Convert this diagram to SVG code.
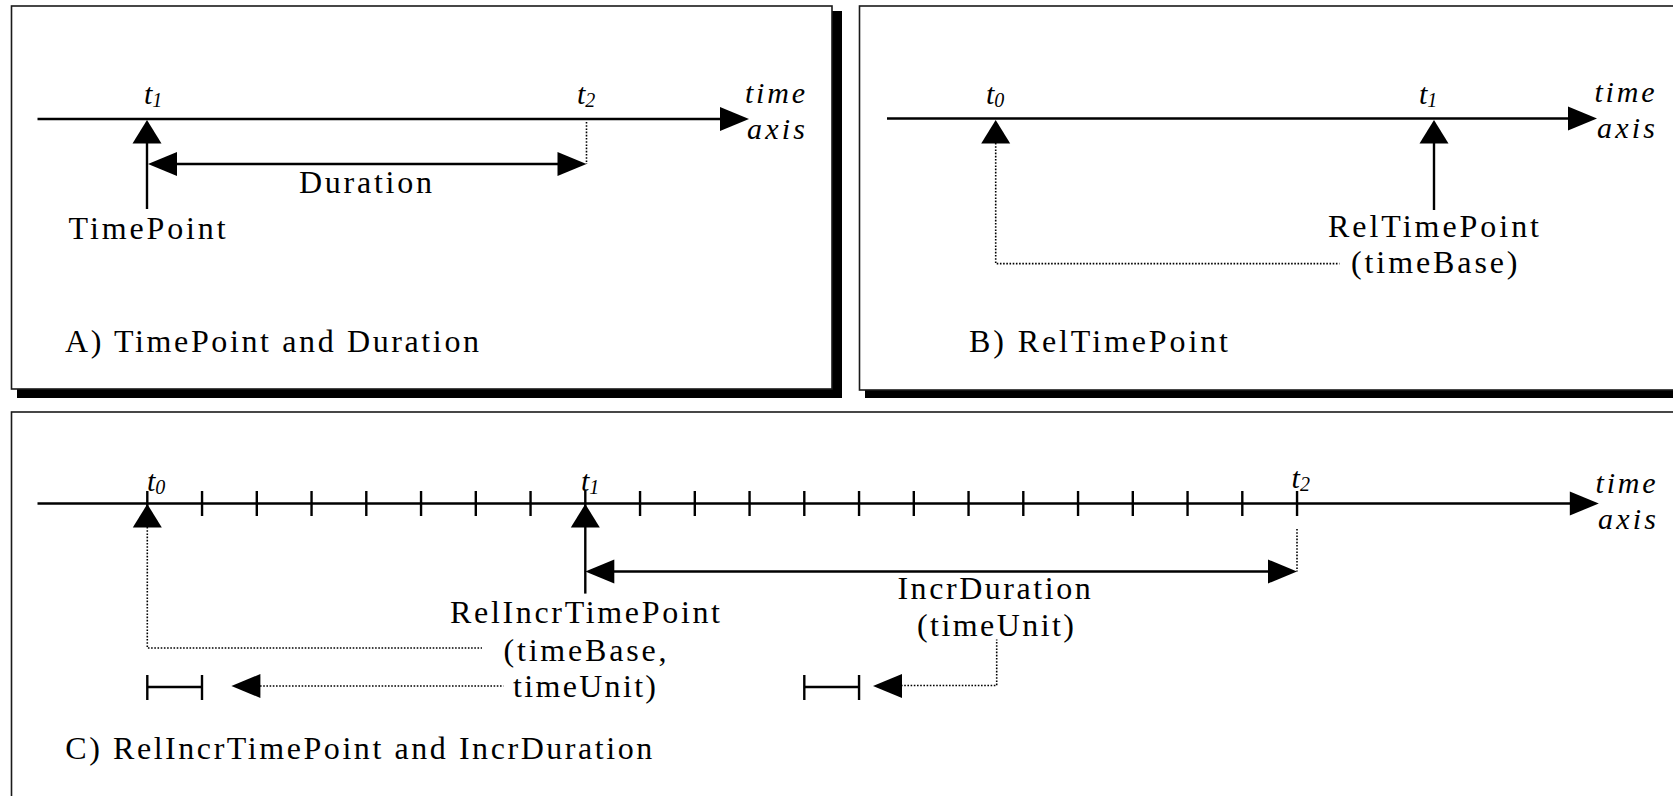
<svg xmlns="http://www.w3.org/2000/svg" width="1673" height="796" viewBox="0 0 1673 796">
<style>
.panel{fill:#fff;stroke:#1a1a1a;stroke-width:1.6}
.shadow{fill:#000}
.ln{stroke:#000;stroke-width:2.4;fill:none}
.dot{stroke:#000;stroke-width:1.6;fill:none;stroke-dasharray:1.6 1.6}
.ah{fill:#000}
.t{font-family:"Liberation Serif","Times New Roman",serif;font-size:32px;fill:#000}
.i{font-family:"Liberation Serif","Times New Roman",serif;font-size:30px;font-style:italic;fill:#000}
.sub{font-size:20px}
</style>
<defs>
<path id="aR" class="ah" d="M0,0 L-29,-12 L-29,12 Z"/>
<path id="aL" class="ah" d="M0,0 L29,-12 L29,12 Z"/>
<path id="aU" class="ah" d="M0,0 L-14.5,23.5 L14.5,23.5 Z"/>
</defs>

<g id="panelA">
<rect class="shadow" x="17" y="11" width="825" height="387"/>
<rect class="panel" x="11.5" y="6" width="820.5" height="383"/>
</g>
<g id="panelB">
<rect class="shadow" x="865" y="11" width="820" height="387"/>
<rect class="panel" x="859.5" y="6" width="830" height="384"/>
</g>
<g id="panelC">
<rect class="panel" x="11.5" y="412" width="1680" height="420"/>
</g>

<g id="connectors">
<!-- Panel A -->
<line class="ln" x1="37.5" y1="119" x2="722" y2="119"/>
<use href="#aR" x="749" y="119"/>
<use href="#aU" x="147" y="120"/>
<line class="ln" x1="147" y1="142" x2="147" y2="209"/>
<line class="dot" x1="586.5" y1="122" x2="586.5" y2="164"/>
<line class="ln" x1="176" y1="164" x2="558" y2="164"/>
<use href="#aL" x="148" y="164"/>
<use href="#aR" x="586.5" y="164"/>

<!-- Panel B -->
<line class="ln" x1="887" y1="118.5" x2="1570" y2="118.5"/>
<use href="#aR" x="1597" y="118.5"/>
<use href="#aU" x="995.7" y="120"/>
<polyline class="dot" points="995.7,143 995.7,263.6 1339.5,263.6"/>
<use href="#aU" x="1434" y="120"/>
<line class="ln" x1="1434" y1="142" x2="1434" y2="210"/>

<!-- Panel C -->
<line class="ln" x1="37.5" y1="503.5" x2="1571" y2="503.5"/>
<use href="#aR" x="1598.8" y="503.5"/>
<g id="ticks">
<line class="ln" x1="147.3" y1="491" x2="147.3" y2="516"/>
<line class="ln" x1="202.05" y1="491" x2="202.05" y2="516"/>
<line class="ln" x1="256.8" y1="491" x2="256.8" y2="516"/>
<line class="ln" x1="311.55" y1="491" x2="311.55" y2="516"/>
<line class="ln" x1="366.3" y1="491" x2="366.3" y2="516"/>
<line class="ln" x1="421.05" y1="491" x2="421.05" y2="516"/>
<line class="ln" x1="475.8" y1="491" x2="475.8" y2="516"/>
<line class="ln" x1="530.55" y1="491" x2="530.55" y2="516"/>
<line class="ln" x1="585.3" y1="491" x2="585.3" y2="516"/>
<line class="ln" x1="640.05" y1="491" x2="640.05" y2="516"/>
<line class="ln" x1="694.8" y1="491" x2="694.8" y2="516"/>
<line class="ln" x1="749.55" y1="491" x2="749.55" y2="516"/>
<line class="ln" x1="804.3" y1="491" x2="804.3" y2="516"/>
<line class="ln" x1="859.05" y1="491" x2="859.05" y2="516"/>
<line class="ln" x1="913.8" y1="491" x2="913.8" y2="516"/>
<line class="ln" x1="968.55" y1="491" x2="968.55" y2="516"/>
<line class="ln" x1="1023.3" y1="491" x2="1023.3" y2="516"/>
<line class="ln" x1="1078.05" y1="491" x2="1078.05" y2="516"/>
<line class="ln" x1="1132.8" y1="491" x2="1132.8" y2="516"/>
<line class="ln" x1="1187.55" y1="491" x2="1187.55" y2="516"/>
<line class="ln" x1="1242.3" y1="491" x2="1242.3" y2="516"/>
<line class="ln" x1="1297.05" y1="491" x2="1297.05" y2="516"/>
</g>
<use href="#aU" x="147.3" y="504"/>
<polyline class="dot" points="147.3,527 147.3,648 482,648"/>
<use href="#aU" x="585.3" y="504"/>
<line class="ln" x1="585.3" y1="526" x2="585.3" y2="593.6"/>
<line class="ln" x1="613" y1="571.5" x2="1269" y2="571.5"/>
<use href="#aL" x="585.3" y="571.5"/>
<use href="#aR" x="1297" y="571.5"/>
<line class="dot" x1="1297" y1="529" x2="1297" y2="571.5"/>
<!-- unit brackets -->
<line class="ln" x1="147.3" y1="675" x2="147.3" y2="700"/>
<line class="ln" x1="202" y1="675" x2="202" y2="700"/>
<line class="ln" x1="147.3" y1="687" x2="202" y2="687"/>
<use href="#aL" x="231.4" y="686"/>
<line class="dot" x1="260" y1="686" x2="503.5" y2="686"/>
<line class="ln" x1="804.3" y1="675" x2="804.3" y2="700"/>
<line class="ln" x1="859.05" y1="675" x2="859.05" y2="700"/>
<line class="ln" x1="804.3" y1="687" x2="859.05" y2="687"/>
<use href="#aL" x="873" y="686"/>
<polyline class="dot" points="901,685.5 996.7,685.5 996.7,639.5"/>
</g>

<g id="labelsA">
<text class="i" x="144" y="104">t<tspan class="sub" dy="3">1</tspan></text>
<text class="i" x="577" y="104">t<tspan class="sub" dy="3">2</tspan></text>
<text class="i" x="745" y="103" textLength="60">time</text>
<text class="i" x="747" y="138.5" textLength="58">axis</text>
<text class="t" x="299" y="192.7" textLength="133">Duration</text>
<text class="t" x="68.6" y="238.5" textLength="157">TimePoint</text>
<text class="t" x="65" y="352" textLength="414">A) TimePoint and Duration</text>
</g>
<g id="labelsB">
<text class="i" x="986" y="104">t<tspan class="sub" dy="3">0</tspan></text>
<text class="i" x="1419" y="104">t<tspan class="sub" dy="3">1</tspan></text>
<text class="i" x="1594.5" y="102" textLength="60">time</text>
<text class="i" x="1597" y="138" textLength="58">axis</text>
<text class="t" x="1328" y="237" textLength="211">RelTimePoint</text>
<text class="t" x="1351" y="273" textLength="166.5">(timeBase)</text>
<text class="t" x="969" y="352" textLength="259">B) RelTimePoint</text>
</g>
<g id="labelsC">
<text class="i" x="147" y="491">t<tspan class="sub" dy="3">0</tspan></text>
<text class="i" x="581" y="491">t<tspan class="sub" dy="3">1</tspan></text>
<text class="i" x="1291.6" y="488">t<tspan class="sub" dy="3">2</tspan></text>
<text class="i" x="1595.6" y="493" textLength="60">time</text>
<text class="i" x="1598" y="529" textLength="58">axis</text>
<text class="t" x="450" y="623" textLength="270">RelIncrTimePoint</text>
<text class="t" x="503.5" y="661" textLength="163">(timeBase,</text>
<text class="t" x="513" y="697" textLength="143">timeUnit)</text>
<text class="t" x="897.4" y="599" textLength="193.4">IncrDuration</text>
<text class="t" x="917" y="636" textLength="157">(timeUnit)</text>
<text class="t" x="65.3" y="759" textLength="587">C) RelIncrTimePoint and IncrDuration</text>
</g>
</svg>
